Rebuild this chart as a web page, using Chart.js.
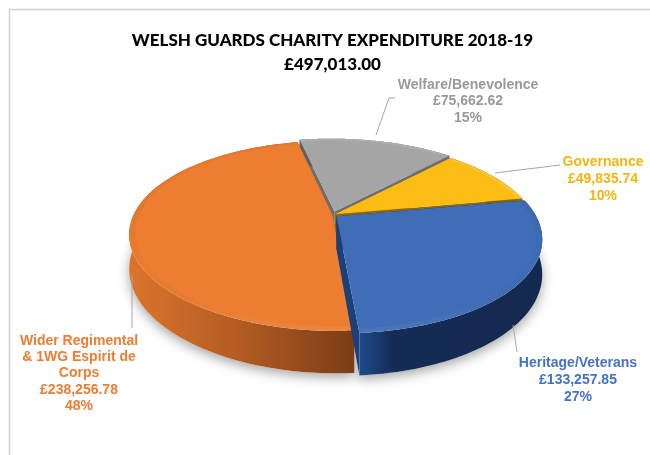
<!DOCTYPE html>
<html><head><meta charset="utf-8">
<style>html,body{margin:0;padding:0;background:#fff}#w{width:650px;height:455px;position:relative}canvas{display:block}</style>
<script src="https://cdn.jsdelivr.net/npm/chart.js@4"></script>
</head><body><div id="w"><canvas id="c" width="650" height="455"></canvas></div>
<script>
const categories = ['Wider Regimental & 1WG Espirit de Corps','Welfare/Benevolence','Governance','Heritage/Veterans'];
const values = [238256.78,75662.62,49835.74,133257.85];
const titleLines = ['WELSH GUARDS CHARITY EXPENDITURE 2018-19','£497,013.00'];
const labelLines = [
  ['Wider Regimental','& 1WG Espirit de','Corps','£238,256.78','48%'],
  ['Welfare/Benevolence','£75,662.62','15%'],
  ['Governance','£49,835.74','10%'],
  ['Heritage/Veterans','£133,257.85','27%']
];
const sliceColors = ['#ED7D31','#A5A5A5','#FBBC14','#3F6DB7'];
const labelColors = ['#ED7D31','#999999','#F5B50F','#4472C4'];
const explode = [0,32,12,20];
const wallStops = [
  [[0,'#DC742C'],[0.5,'#B25B22'],[1,'#7A3D16']],
  [[0,'#5E5E5E'],[1,'#6E6E6E']],
  [[0,'#6B5010'],[1,'#8C6A12']],
  [[0,'#1E4B8C'],[0.18,'#152C56'],[1,'#14294F']]
];
const labelPos = [[79,341,16.3],[468,85,16.5],[603,162,17],[578,363,17]];
const leaders = [
  [[132,275],[132,328]],
  [[376,135],[389,98],[395,98]],
  [[495,173],[560,165]],
  [[513,325],[517,352]]
];
const SQUASH = 0.454, PERSP = 0.221, DEPTH = 33, RADIUS = 199, SHEAR = 3;

function P(arc,u,v,z){
  const f = 1/(1-PERSP*v);
  return [arc.x + (RADIUS*u + SHEAR*v)*f, arc.y + (RADIUS*SQUASH*v + z)*f];
}
function geom(arc){
  const off = (arc.options.offset||0)/4/RADIUS;
  const mid = (arc.startAngle+arc.endAngle)/2;
  return {ox:Math.cos(mid)*off, oy:Math.sin(mid)*off, a0:arc.startAngle, a1:arc.endAngle};
}
function rimPts(arc,g,z,r,rev){
  const n=90, out=[];
  for(let i=0;i<=n;i++){
    const t = rev ? 1-i/n : i/n;
    const a = g.a0+(g.a1-g.a0)*t;
    out.push(P(arc,g.ox+r*Math.cos(a),g.oy+r*Math.sin(a),z));
  }
  return out;
}
function fillPoly(ctx,pts,fill){
  ctx.beginPath();
  pts.forEach((p,i)=> i?ctx.lineTo(p[0],p[1]):ctx.moveTo(p[0],p[1]));
  ctx.closePath(); ctx.fillStyle=fill; ctx.fill();
}
function wallFill(ctx,pts,stops){
  const xs=pts.map(p=>p[0]);
  const g=ctx.createLinearGradient(Math.min(...xs),0,Math.max(...xs),0);
  stops.forEach(s=>g.addColorStop(s[0],s[1]));
  return g;
}
const pie3d = {
  id:'pie3d',
  beforeDraw(chart){
    const ctx=chart.ctx;
    ctx.save();
    ctx.strokeStyle='#CFCFCF'; ctx.lineWidth=1.5;
    ctx.beginPath(); ctx.moveTo(650,9.5); ctx.lineTo(9.5,9.5); ctx.lineTo(9.5,455); ctx.stroke();
    ctx.restore();
  },
  beforeDatasetsDraw(chart){
    const ctx=chart.ctx, arcs=chart.getDatasetMeta(0).data;
    ctx.save();
    ctx.save();
    ctx.shadowColor='rgba(0,0,0,0.35)'; ctx.shadowBlur=12; ctx.shadowOffsetY=4;
    [0,3].forEach(i=>{
      const g=geom(arcs[i]);
      fillPoly(ctx,[...rimPts(arcs[i],g,DEPTH,1,false),[arcs[i].x,arcs[i].y]],'#fff');
    });
    ctx.restore();
    [1,2,0,3].forEach(i=>{
      const arc=arcs[i], g=geom(arc);
      const tip=P(arc,g.ox,g.oy,0), tipB=P(arc,g.ox,g.oy,DEPTH);
      const top=rimPts(arc,g,0,1,false), bot=rimPts(arc,g,DEPTH,1,true);
      const wall=[...top,...bot];
      const wf=wallFill(ctx,wall,wallStops[i]);
      const dark=wallStops[i][wallStops[i].length-1][1];
      fillPoly(ctx,[tip,top[0],bot[bot.length-1],tipB],dark);
      fillPoly(ctx,[tip,top[top.length-1],bot[0],tipB],i===3?'#1B3F78':dark);
      fillPoly(ctx,wall,wf);
      fillPoly(ctx,[tip,...top],arc.options.backgroundColor);
      const inner=rimPts(arc,g,0,0.97,true);
      const yy=wall.map(p=>p[1]);
      const gr=ctx.createLinearGradient(0,arc.y,0,Math.max(...yy)-DEPTH);
      gr.addColorStop(0,'rgba(0,0,0,0.04)');
      gr.addColorStop(0.45,'rgba(0,0,0,0.01)');
      gr.addColorStop(1,'rgba(255,255,255,0.10)');
      fillPoly(ctx,[...top,...inner],gr);
    });
    ctx.restore();
    return false;
  },
  afterDraw(chart){
    const ctx=chart.ctx;
    ctx.save();
    ctx.strokeStyle='#A6A6A6'; ctx.lineWidth=1;
    leaders.forEach(l=>{
      ctx.beginPath();
      l.forEach((p,i)=> i?ctx.lineTo(p[0],p[1]):ctx.moveTo(p[0],p[1]));
      ctx.stroke();
    });
    ctx.font='bold 14px "Liberation Sans"';
    ctx.textAlign='center'; ctx.textBaseline='middle';
    labelLines.forEach((lines,i)=>{
      const [x,y,step]=labelPos[i];
      ctx.fillStyle=labelColors[i];
      lines.forEach((t,j)=>ctx.fillText(t,x,y+j*step));
    });
    ctx.restore();
  }
};
new Chart(document.getElementById('c'),{
  type:'pie',
  data:{labels:categories,datasets:[{data:values,backgroundColor:sliceColors,borderWidth:0,offset:explode}]},
  plugins:[pie3d],
  options:{
    responsive:false,animation:false,devicePixelRatio:1,
    rotation:176,radius:RADIUS,
    layout:{padding:{top:29,left:130,right:115,bottom:102}},
    plugins:{
      legend:{display:false},tooltip:{enabled:false},
      title:{display:true,text:titleLines,color:'#000',
        font:{family:'Lato',size:17,weight:'900',lineHeight:1.41},
        padding:{top:0,bottom:0}}
    }
  }
});
</script></body></html>
